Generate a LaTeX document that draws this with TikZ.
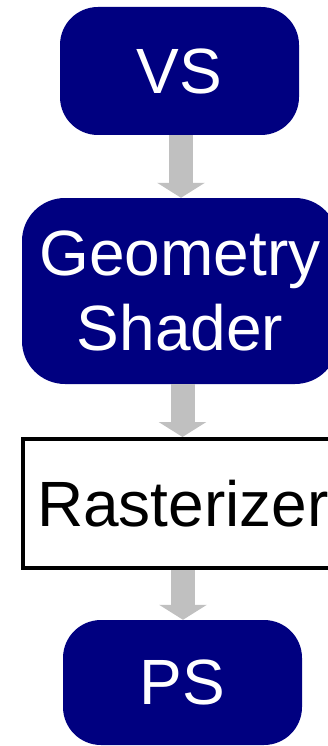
\documentclass[tikz,border=0pt]{standalone}
\usepackage{fontspec}
\setmainfont{Liberation Sans}
\usetikzlibrary{arrows.meta}
\definecolor{navyblue}{RGB}{0,0,128}
\definecolor{arrowgray}{RGB}{192,192,192}
\begin{document}
\begin{tikzpicture}[x=1pt,y=-1pt,
  stage/.style={fill=navyblue, text=white, rounded corners=38pt, inner sep=0pt,
    align=center, font=\fontsize{64}{75}\selectfont},
  plainbox/.style={draw=black, fill=white, line width=4pt, inner sep=0pt,
    font=\fontsize{64}{75}\selectfont},
  flow/.style={draw=arrowgray, line width=24pt, -{Triangle[width=47pt,length=15pt]}}]
\useasboundingbox (0,0) rectangle (328,746);
\clip (0,0) rectangle (328,746);
\node[stage, minimum width=239pt, minimum height=128pt] (vs) at (179.5,71) {VS};
\node[stage, rounded corners=43pt, minimum width=316pt, minimum height=186pt] (geo) at (180,291) {Geometry\\Shader};
\node[plainbox, minimum width=320pt, minimum height=129pt] (ras) at (183,503.5) {Rasterizer};
\node[stage, minimum width=239pt, minimum height=125pt] (ps) at (182.5,682.5) {PS};
\draw[flow] (181,0 |- vs.south) -- (181,0 |- geo.north);
\draw[flow] (182.5,0 |- geo.south) -- (182.5,0 |- ras.north);
\draw[flow] (183,0 |- ras.south) -- (183,0 |- ps.north);
\end{tikzpicture}
\end{document}
